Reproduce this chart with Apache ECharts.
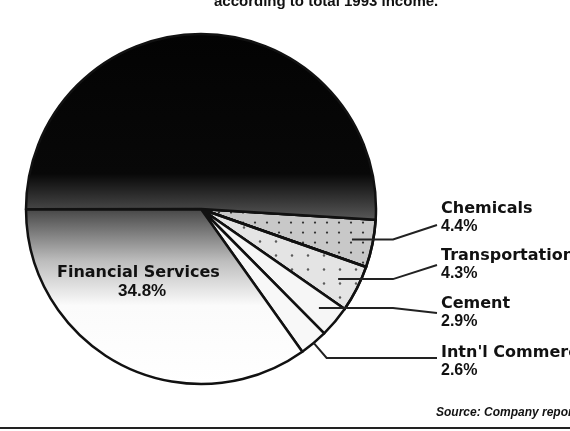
<!DOCTYPE html>
<html>
<head>
<meta charset="utf-8">
<script src="https://cdn.jsdelivr.net/npm/echarts@6/dist/echarts.min.js"></script>
<style>
html,body{margin:0;padding:0;background:#fff;}
#c{width:570px;height:431px;}
</style>
</head>
<body>
<div id="c"></div>
<script>
// ---- data ----
const categories = ['Chemicals', 'Transportation', 'Cement', "Intn'l Commerce", 'Financial Services', 'Other'];
const values = [4.4, 4.3, 2.9, 2.6, 34.8, 51.0];
const titleText = 'according to total 1993 income.';
const sourceText = 'Source: Company reports';

// ---- layout ----
const CX = 201, CY = 209, R = 175, START = -3.5;
const labelPos = [
  {x: 441, y: 218, lineY: 225, k: 0.88},
  {x: 441, y: 265, lineY: 265, k: 0.88},
  {x: 441, y: 313, lineY: 313, k: 0.88},
  {x: 441, y: 362, lineY: 358, k: 1.0},
  {x: 57, y: 264}
];

const chart = echarts.init(document.getElementById('c'), null, {renderer: 'canvas'});

const styles = [
  {color: '#c8c8c8', decal: {symbol: 'circle', symbolSize: 0.45, color: 'rgba(0,0,0,0.75)', dashArrayX: 6, dashArrayY: 5}},
  {color: '#e4e4e4', decal: {symbol: 'circle', symbolSize: 0.35, color: 'rgba(0,0,0,0.6)', dashArrayX: 8, dashArrayY: 7}},
  {color: '#f6f6f6'},
  {color: '#f8f8f8'},
  {color: {type: 'linear', x: 0, y: 0, x2: 0, y2: 1, colorStops: [
    {offset: 0, color: '#444'}, {offset: 0.3, color: '#bdbdbd'}, {offset: 0.55, color: '#fbfbfb'}, {offset: 1, color: '#fff'}]}},
  {color: {type: 'linear', x: 0, y: 0, x2: 0, y2: 1, colorStops: [
    {offset: 0, color: '#030303'}, {offset: 0.75, color: '#080808'}, {offset: 1, color: '#5a5a5a'}]}}
];

const fillData = categories.map((name, i) => ({name: name, value: values[i], itemStyle: styles[i]}));

const labelData = categories.map((name, i) => {
  const item = {name: name, value: values[i]};
  if (i === 4) {
    item.label = {show: true, formatter: '{a|' + name + '}\n{c|' + values[i].toFixed(1) + '%}'};
    item.labelLine = {show: false};
  } else if (i === 5) {
    item.label = {show: false};
    item.labelLine = {show: false};
  }
  return item;
});

chart.setOption({
  animation: false,
  backgroundColor: '#fff',
  title: [
    {text: titleText, left: 209, top: -11, textStyle: {fontFamily: 'Liberation Sans', fontWeight: 'bold', fontSize: 15, color: '#111'}},
    {text: sourceText, left: 431, top: 402, textStyle: {fontFamily: 'Liberation Sans', fontWeight: 'bold', fontStyle: 'italic', fontSize: 12, color: '#111'}}
  ],
  graphic: [
    {type: 'line', shape: {x1: 0, y1: 428, x2: 570, y2: 428}, style: {stroke: '#222', lineWidth: 2}}
  ],
  series: [{
    type: 'pie',
    z: 2,
    center: [CX, CY],
    radius: [0, R],
    startAngle: START,
    clockwise: true,
    silent: true,
    itemStyle: {borderColor: '#111', borderWidth: 2.5},
    label: {show: false},
    labelLine: {show: false},
    data: fillData
  }, {
    type: 'pie',
    z: 5,
    center: [CX, CY],
    radius: [0, R],
    startAngle: START,
    clockwise: true,
    silent: true,
    avoidLabelOverlap: false,
    itemStyle: {color: 'rgba(0,0,0,0)', borderWidth: 0},
    label: {
      show: true,
      position: 'outside',
      formatter: p => '{a|' + p.name + '}\n{b|' + p.value.toFixed(1) + '%}',
      rich: {
        a: {fontFamily: 'DejaVu Sans', fontWeight: 'bold', fontSize: 16, lineHeight: 18, color: '#111'},
        b: {fontFamily: 'Liberation Sans', fontWeight: 'bold', fontSize: 16, lineHeight: 18, color: '#111'},
        c: {fontFamily: 'Liberation Sans', fontWeight: 'bold', fontSize: 17, lineHeight: 19, color: '#111', padding: [0, 0, 0, 61]}
      }
    },
    labelLine: {show: true, lineStyle: {color: '#222', width: 2}},
    labelLayout: function (params) {
      const i = params.dataIndex;
      const lp = labelPos[i];
      if (!lp) return {};
      if (i === 4) {
        return {x: lp.x, y: lp.y, align: 'left', verticalAlign: 'top'};
      }
      const p0 = params.labelLinePoints[0];
      const sx = CX + (p0[0] - CX) * lp.k;
      const sy = CY + (p0[1] - CY) * lp.k;
      let pts;
      if (i === 3) {
        pts = [[sx, sy], [sx + 13, lp.lineY], [lp.x - 4, lp.lineY]];
      } else {
        pts = [[sx, sy], [393, sy], [lp.x - 4, lp.lineY]];
      }
      return {x: lp.x, y: lp.y, align: 'left', verticalAlign: 'middle', labelLinePoints: pts};
    },
    data: labelData
  }]
});
</script>
</body>
</html>
